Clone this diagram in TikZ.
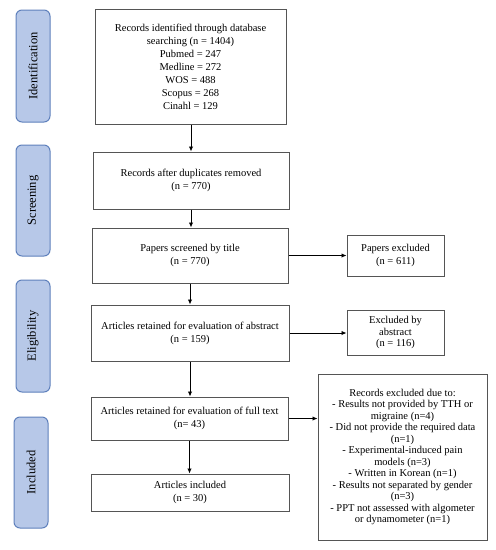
\documentclass[tikz,border=0pt]{standalone}
\usepackage{fontspec}
\setmainfont{Liberation Serif}
\usetikzlibrary{arrows.meta}
\definecolor{phasefill}{RGB}{183,200,232}
\definecolor{phasedraw}{RGB}{95,128,188}
\definecolor{boxdraw}{RGB}{85,85,85}
\tikzset{
  flowbox/.style={draw=boxdraw, line width=1pt, fill=white, align=center, inner sep=2pt,
    font=\fontsize{10.5}{13}\selectfont},
  notebox/.style={draw=boxdraw, line width=1pt, fill=white, align=center, inner sep=2pt,
    font=\fontsize{10.5}{11.5}\selectfont},
  phase/.style={draw=phasedraw, line width=1pt, fill=phasefill, rounded corners=6pt,
    rotate=90, minimum height=34pt, font=\fontsize{12.5}{14}\selectfont, inner sep=0pt},
  arr/.style={-{Latex[length=5pt,width=4.5pt]}, line width=0.9pt, black}
}
\begin{document}
\begin{tikzpicture}[x=1pt,y=-1pt]
\useasboundingbox (0,0) rectangle (496,550);
% phase labels
\node[phase, minimum width=112pt] (s1) at (33,66) {Identification};
\node[phase, minimum width=111pt] (s2) at (33,200.5) {Screening};
\node[phase, minimum width=112pt] (s3) at (33,336) {Eligibility};
\node[phase, minimum width=111pt] (s4) at (31,472.5) {Included};
% main boxes
\node[flowbox, minimum width=191pt, minimum height=115pt] (b1) at (190.5,66.5)
  {Records identified through database\\searching (n = 1404)\\Pubmed = 247\\Medline = 272\\WOS = 488\\Scopus = 268\\Cinahl = 129};
\node[flowbox, minimum width=196pt, minimum height=57pt] (b2) at (191,180.5)
  {Records after duplicates removed\\(n = 770)};
\node[flowbox, minimum width=196pt, minimum height=55pt] (b3) at (190,255.5)
  {Papers screened by title\\(n = 770)};
\node[flowbox, minimum width=198pt, minimum height=56pt] (b4) at (190,333)
  {Articles retained for evaluation of abstract\\(n = 159)};
\node[flowbox, minimum width=197pt, minimum height=43pt] (b5) at (189.5,418.5)
  {Articles retained for evaluation of full text\\(n= 43)};
\node[flowbox, minimum width=198pt, minimum height=37pt] (b6) at (190,492.5)
  {Articles included\\(n = 30)};
% right boxes
\node[flowbox, minimum width=97pt, minimum height=41pt] (r1) at (395.5,255.5)
  {Papers excluded\\(n = 611)};
\node[notebox, minimum width=97pt, minimum height=45pt] (r2) at (395.5,332.5)
  {Excluded by\\abstract\\(n = 116)};
\node[notebox, minimum width=169pt, minimum height=166pt] (r3) at (402.5,457)
  {Records excluded due to:\\- Results not provided by TTH or\\migraine (n=4)\\- Did not provide the required data\\(n=1)\\- Experimental-induced pain\\models (n=3)\\- Written in Korean (n=1)\\- Results not separated by gender\\(n=3)\\- PPT not assessed with algometer\\or dynamometer (n=1)};
% arrows
\draw[arr] (b1.south -| b2.north) -- (b2.north);
\draw[arr] (b2.south) -- (b2.south |- b3.north);
\draw[arr] (b3.south) -- (b3.south |- b4.north);
\draw[arr] (b4.south) -- (b4.south |- b5.north);
\draw[arr] (b5.south) -- (b5.south |- b6.north);
\draw[arr] (b3.east) -- (b3.east -| r1.west);
\draw[arr] (b4.east) -- (b4.east -| r2.west);
\draw[arr] (b5.east) -- (b5.east -| r3.west);
\end{tikzpicture}
\end{document}
